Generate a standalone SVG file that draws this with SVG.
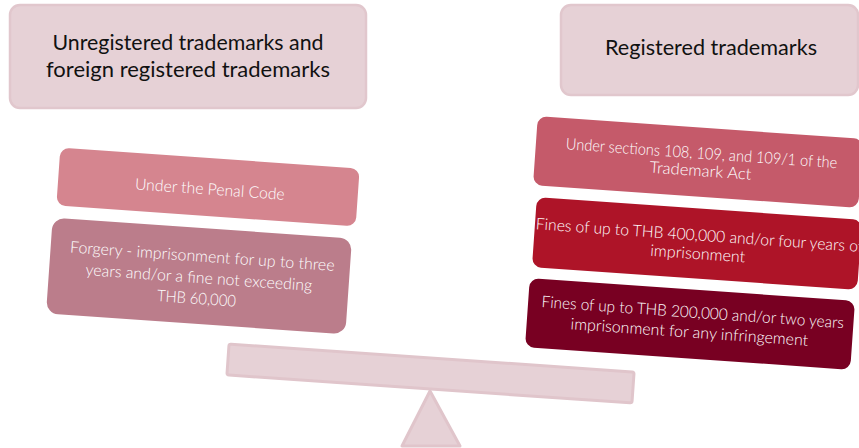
<svg xmlns="http://www.w3.org/2000/svg" width="859" height="448" viewBox="0 0 859 448">
  <style>
    .hdr { fill: #e6d1d6; stroke: #e1c7cd; stroke-width: 2.5; }
    .hdrtxt { font-family: "Lato", "Open Sans", "Liberation Sans", sans-serif; font-size: 22px; fill: #111111; text-anchor: middle; }
    .body { font-family: "Lato", "Open Sans", "Liberation Sans", sans-serif; font-weight: 300; font-size: 16px; fill: #ffffff; text-anchor: middle; }
    .scale { fill: #e6d1d6; stroke: #e0c5cb; stroke-width: 3; stroke-linejoin: round; }
  </style>

  <!-- Headers -->
  <g id="header-left">
    <rect class="hdr" x="10" y="5" width="356" height="103" rx="10"/>
    <text class="hdrtxt" x="188" y="50" textLength="271" lengthAdjust="spacingAndGlyphs">Unregistered trademarks and</text>
    <text class="hdrtxt" x="188" y="77" textLength="284" lengthAdjust="spacingAndGlyphs">foreign registered trademarks</text>
  </g>
  <g id="header-right">
    <rect class="hdr" x="561" y="5" width="297" height="90" rx="10"/>
    <text class="hdrtxt" x="711" y="55" textLength="212" lengthAdjust="spacingAndGlyphs">Registered trademarks</text>
  </g>

  <!-- Left side boxes -->
  <g id="penal-code" transform="translate(208,187) rotate(4)">
    <rect x="-150" y="-29" width="300" height="58" rx="9" fill="#d5858f"/>
    <text class="body" x="2" y="7.5" textLength="150" lengthAdjust="spacingAndGlyphs">Under the Penal Code</text>
  </g>
  <g id="forgery" transform="translate(199,276) rotate(4)">
    <rect x="-150" y="-48" width="300" height="96" rx="12" fill="#bb7d8b"/>
    <text class="body" x="2" y="-14.5" textLength="265" lengthAdjust="spacingAndGlyphs">Forgery - imprisonment for up to three</text>
    <text class="body" x="0" y="7" textLength="227" lengthAdjust="spacingAndGlyphs">years and/or a fine not exceeding</text>
    <text class="body" x="-1" y="28" textLength="79" lengthAdjust="spacingAndGlyphs">THB 60,000</text>
  </g>

  <!-- Right side boxes -->
  <g id="trademark-act" transform="translate(698,162) rotate(4)">
    <rect x="-163" y="-34.5" width="326" height="69" rx="9" fill="#c55a6a"/>
    <text class="body" x="3" y="-3.5" textLength="272" lengthAdjust="spacingAndGlyphs">Under sections 108, 109, and 109/1 of the</text>
    <text class="body" x="3" y="14" textLength="102" lengthAdjust="spacingAndGlyphs">Trademark Act</text>
  </g>
  <g id="fine-400k" transform="translate(697,243.5) rotate(4)">
    <rect x="-163" y="-35" width="326" height="70" rx="9" fill="#ae1428"/>
    <text class="body" x="2" y="-3" textLength="328" lengthAdjust="spacingAndGlyphs">Fines of up to THB 400,000 and/or four years of</text>
    <text class="body" x="1.5" y="15.5" textLength="95" lengthAdjust="spacingAndGlyphs">imprisonment</text>
  </g>
  <g id="fine-200k" transform="translate(690,324) rotate(4)">
    <rect x="-163" y="-34.5" width="326" height="69" rx="9" fill="#780022"/>
    <text class="body" x="2" y="-6.5" textLength="303" lengthAdjust="spacingAndGlyphs">Fines of up to THB 200,000 and/or two years</text>
    <text class="body" x="0" y="13.5" textLength="238" lengthAdjust="spacingAndGlyphs">imprisonment for any infringement</text>
  </g>

  <!-- Seesaw -->
  <g id="beam" transform="translate(430.5,373.5) rotate(3.95)">
    <rect class="scale" x="-203" y="-15.5" width="406" height="31" rx="2"/>
  </g>
  <g id="fulcrum">
    <polygon class="scale" points="430,391 402,446 460,446"/>
  </g>

  <g id="connectors"></g>
</svg>
